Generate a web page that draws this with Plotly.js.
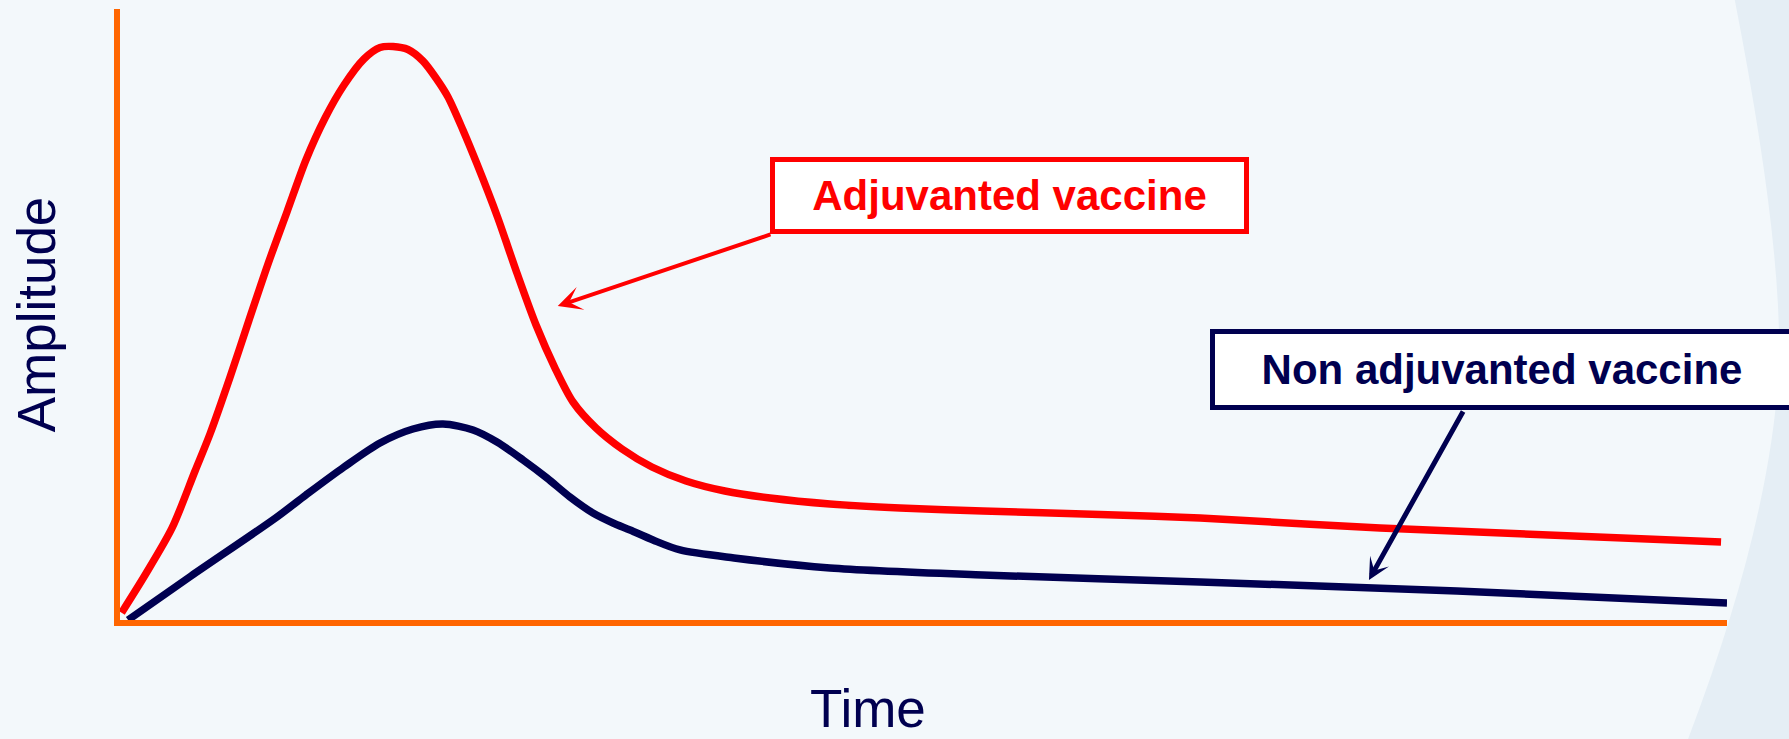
<!DOCTYPE html>
<html>
<head>
<meta charset="utf-8">
<script src="https://cdn.plot.ly/plotly-3.0.1.min.js"></script>
<style>
  html, body { margin: 0; padding: 0; background: #F3F8FB; }
  #chart { width: 1789px; height: 739px; }
</style>
</head>
<body>
<div id="chart"></div>
<script>
// Time (arbitrary units, 0-100) and amplitude (arbitrary units, 0-100)
var adjuvantedTime = [0.1, 1.56, 3.24, 4.67, 5.60, 6.85, 8.03, 9.21, 10.39, 11.57, 12.76, 13.94, 15.18, 16.18, 16.99, 17.92, 18.85, 19.66, 20.41, 21.34, 22.19, 23.49, 24.70, 25.89, 27.07, 28.19, 29.62, 31.24, 33.10, 35.22, 37.64, 40.45, 44.18, 48.54, 53.70, 60.98, 67.21, 78.41, 99.63];
var adjuvantedAmp  = [1.2, 7.36, 15.06, 24.39, 30.44, 39.77, 49.10, 58.27, 66.78, 75.29, 82.16, 87.56, 91.82, 93.70, 93.86, 93.37, 91.49, 88.71, 85.60, 80.20, 74.80, 65.96, 56.79, 48.28, 41.24, 35.68, 31.42, 27.99, 25.04, 22.75, 21.11, 19.97, 18.99, 18.33, 17.84, 17.27, 16.69, 15.06, 12.77];

var nonAdjTime = [0.5, 4.42, 9.68, 11.57, 13.94, 16.18, 18.23, 20.10, 21.97, 23.46, 25.08, 26.57, 28.00, 29.43, 30.68, 31.74, 33.17, 34.85, 38.21, 44.18, 53.70, 67.21, 83.20, 100.0];
var nonAdjAmp  = [0.0, 7.20, 16.69, 20.46, 25.04, 28.97, 31.26, 32.08, 31.10, 29.13, 26.19, 23.24, 20.13, 17.51, 15.88, 14.73, 13.09, 11.46, 10.15, 8.51, 7.36, 6.22, 4.75, 2.78];

var seriesNames = ["Adjuvanted vaccine", "Non adjuvanted vaccine"];
var axisTitles = {x: "Time", y: "Amplitude"};

var RED = "#FF0000", NAVY = "#000050", ORANGE = "#FF6600";
var FONT = "Arial, 'Liberation Sans', sans-serif";

var traces = [
  {x: adjuvantedTime, y: adjuvantedAmp, name: seriesNames[0], mode: "lines",
   line: {color: RED, width: 7.5, shape: "spline", smoothing: 0.8}, hoverinfo: "skip"},
  {x: nonAdjTime, y: nonAdjAmp, name: seriesNames[1], mode: "lines",
   line: {color: NAVY, width: 7.5, shape: "spline", smoothing: 0.8}, hoverinfo: "skip"}
];

var layout = {
  width: 1789, height: 739,
  paper_bgcolor: "#F3F8FB",
  plot_bgcolor: "rgba(0,0,0,0)",
  showlegend: false,
  margin: {l: 120, r: 62, t: 9, b: 119, pad: 0},
  font: {family: FONT, color: NAVY},
  xaxis: {
    range: [0, 100], showgrid: false, zeroline: false, showticklabels: false, ticks: "",
    showline: true, linecolor: ORANGE, linewidth: 6, fixedrange: true
  },
  yaxis: {
    range: [0, 100], showgrid: false, zeroline: false, showticklabels: false, ticks: "",
    showline: true, linecolor: ORANGE, linewidth: 6, fixedrange: true,
    title: {text: axisTitles.y, font: {size: 53, color: NAVY}, standoff: 43}
  },
  shapes: [
    {type: "path", xref: "paper", yref: "paper", layer: "below",
     path: "M 1.0037,1.03 Q 1.036,0.6 1.032,0.40 Q 1.026,0.15 0.975,-0.2 L 1.06,-0.2 L 1.06,1.03 Z",
     fillcolor: "#E5EEF5", line: {width: 0}}
  ],
  annotations: [
    // x axis title (placed off-centre as in the original)
    {xref: "paper", yref: "paper", x: 0.4655, y: -0.1455, xanchor: "center", yanchor: "middle",
     text: axisTitles.x, showarrow: false, font: {size: 53, color: NAVY, family: FONT}},
    // arrows
    {xref: "x", yref: "y", axref: "x", ayref: "y", x: 27.24, y: 51.39, ax: 40.57, ay: 63.18,
     text: "", showarrow: true, arrowhead: 3, arrowsize: 1.0, arrowwidth: 4, arrowcolor: RED},
    {xref: "x", yref: "y", axref: "x", ayref: "y", x: 77.72, y: 6.55, ax: 83.63, ay: 34.37,
     text: "", showarrow: true, arrowhead: 3, arrowsize: 0.72, arrowwidth: 5, arrowcolor: NAVY},
    // label boxes
    {xref: "paper", yref: "paper", x: 0.5535, y: 0.6948, xanchor: "center", yanchor: "middle",
     text: "<b>" + seriesNames[0] + "</b>", showarrow: false,
     font: {size: 42, color: RED, family: FONT},
     bgcolor: "#FFFFFF", bordercolor: RED, borderwidth: 5, borderpad: 0, width: 469, height: 67},
    {xref: "paper", yref: "paper", x: 0.6783, y: 0.4092, xanchor: "left", yanchor: "middle",
     text: "<b>" + seriesNames[1] + "</b>", showarrow: false,
     font: {size: 42, color: NAVY, family: FONT},
     bgcolor: "#FFFFFF", bordercolor: NAVY, borderwidth: 5, borderpad: 0, width: 574, height: 71}
  ]
};

Plotly.newPlot("chart", traces, layout, {staticPlot: true, displayModeBar: false});
</script>
</body>
</html>
